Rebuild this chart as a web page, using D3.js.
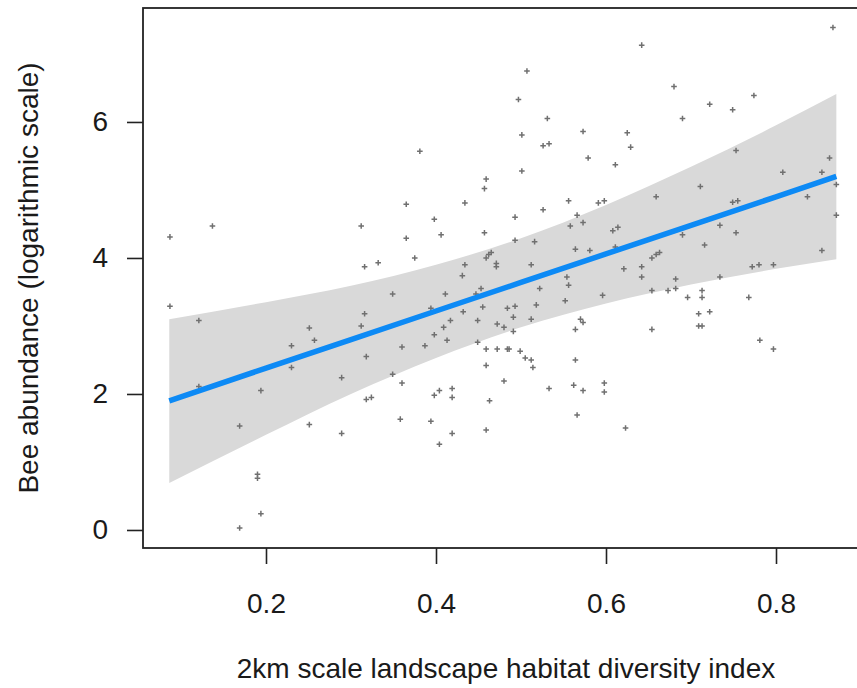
<!DOCTYPE html>
<html>
<head>
<meta charset="utf-8">
<script src="https://cdn.jsdelivr.net/npm/d3@7.9.0/dist/d3.min.js"></script>
<style>
  body { margin: 0; background: #fff; }
  svg { display: block; font-family: "Liberation Sans", Arial, sans-serif; }
</style>
</head>
<body>
<svg id="chart" width="857" height="688"></svg>
<script>
// habitat diversity index (x) and log bee abundance (y)
const diversity = [
  0.087, 0.137, 0.312, 0.316, 0.332, 0.507, 0.497, 0.531, 0.381, 0.501,
  0.526, 0.533, 0.573, 0.579, 0.501, 0.459, 0.457, 0.365, 0.434, 0.556,
  0.591, 0.598, 0.398, 0.526, 0.493, 0.566, 0.558, 0.573, 0.365, 0.406,
  0.457, 0.493, 0.516, 0.375, 0.459, 0.462, 0.465, 0.434, 0.471, 0.471,
  0.512, 0.564, 0.581, 0.431, 0.554, 0.867, 0.642, 0.680, 0.774, 0.722,
  0.749, 0.690, 0.625, 0.629, 0.753, 0.611, 0.863, 0.808, 0.854, 0.871,
  0.711, 0.659, 0.837, 0.749, 0.755, 0.871, 0.608, 0.614, 0.734, 0.690,
  0.753, 0.611, 0.716, 0.854, 0.654, 0.659, 0.663, 0.621, 0.642, 0.772,
  0.780, 0.797, 0.642, 0.734, 0.682, 0.087, 0.121, 0.121, 0.169, 0.190,
  0.190, 0.194, 0.169, 0.194, 0.230, 0.230, 0.251, 0.257, 0.251, 0.289,
  0.289, 0.312, 0.316, 0.318, 0.318, 0.324, 0.349, 0.411, 0.447, 0.453,
  0.394, 0.432, 0.455, 0.417, 0.449, 0.484, 0.493, 0.518, 0.522, 0.556,
  0.552, 0.596, 0.491, 0.512, 0.472, 0.480, 0.491, 0.409, 0.398, 0.413,
  0.449, 0.387, 0.360, 0.459, 0.472, 0.484, 0.486, 0.499, 0.505, 0.512,
  0.514, 0.459, 0.570, 0.573, 0.564, 0.564, 0.349, 0.360, 0.480, 0.533,
  0.562, 0.573, 0.598, 0.598, 0.398, 0.404, 0.419, 0.419, 0.463, 0.358,
  0.394, 0.459, 0.419, 0.566, 0.404, 0.654, 0.673, 0.682, 0.696, 0.713,
  0.713, 0.768, 0.709, 0.722, 0.709, 0.713, 0.654, 0.781, 0.797, 0.623
];
const abundance = [
  4.31, 4.47, 4.47, 3.87, 3.93, 6.75, 6.33, 6.05, 5.57, 5.81,
  5.65, 5.68, 5.86, 5.47, 5.28, 5.16, 5.02, 4.79, 4.81, 4.84,
  4.81, 4.84, 4.57, 4.71, 4.60, 4.63, 4.47, 4.52, 4.29, 4.34,
  4.37, 4.26, 4.24, 4.00, 4.00, 4.05, 4.08, 3.90, 3.92, 3.87,
  3.90, 4.13, 4.11, 3.74, 3.72, 7.39, 7.13, 6.52, 6.39, 6.26,
  6.18, 6.05, 5.84, 5.63, 5.58, 5.37, 5.47, 5.26, 5.26, 5.08,
  5.05, 4.90, 4.90, 4.82, 4.84, 4.63, 4.40, 4.45, 4.48, 4.34,
  4.37, 4.16, 4.19, 4.11, 4.00, 4.05, 4.08, 3.84, 3.87, 3.87,
  3.90, 3.90, 3.72, 3.72, 3.69, 3.29, 3.08, 2.11, 1.53, 0.82,
  0.76, 0.24, 0.03, 2.05, 2.71, 2.39, 2.97, 2.79, 1.55, 2.24,
  1.42, 3.00, 3.18, 2.55, 1.92, 1.95, 3.47, 3.47, 3.47, 3.55,
  3.26, 3.21, 3.28, 3.08, 3.08, 3.26, 3.29, 3.31, 3.55, 3.60,
  3.37, 3.45, 3.13, 3.10, 3.03, 2.98, 2.92, 2.98, 2.87, 2.79,
  2.76, 2.71, 2.69, 2.66, 2.66, 2.66, 2.66, 2.63, 2.53, 2.50,
  2.39, 2.42, 3.10, 3.05, 2.95, 2.50, 2.29, 2.16, 2.19, 2.08,
  2.13, 2.05, 2.16, 2.03, 1.98, 2.05, 2.08, 1.95, 1.90, 1.63,
  1.60, 1.47, 1.42, 1.69, 1.26, 3.52, 3.52, 3.55, 3.42, 3.52,
  3.42, 3.42, 3.18, 3.21, 3.00, 3.00, 2.95, 2.79, 2.66, 1.50
];

// fitted line and its confidence band
const fitX = [0.0862, 0.2, 0.3, 0.4, 0.5, 0.6, 0.7, 0.8, 0.871];
const fitY = [1.90, 2.38, 2.80, 3.22, 3.64, 4.06, 4.48, 4.90, 5.20];
const bandUpper = [3.10, 3.35, 3.59, 3.90, 4.29, 4.78, 5.34, 5.95, 6.41];
const bandLower = [0.69, 1.40, 2.00, 2.53, 2.98, 3.33, 3.61, 3.84, 3.98];

const xTicks = [0.2, 0.4, 0.6, 0.8];
const yTicks = [0, 2, 4, 6];

const xLabel = '2km scale landscape habitat diversity index';
const yLabel = 'Bee abundance (logarithmic scale)';

// plot box (right edge runs past the window, as in the source image)
const box = { left: 143, top: 8, right: 861, bottom: 548 };
const fontSize = '28px';

const svg = d3.select('#chart');

const x = d3.scaleLinear().domain([0.0553, 0.9]).range([box.left, box.right]);
const y = d3.scaleLinear().domain([-0.265, 7.676]).range([box.bottom, box.top]);

// confidence band
const band = fitX.map((d, i) => ({ x: d, lo: bandLower[i], hi: bandUpper[i] }));
svg.append('path')
  .datum(band)
  .attr('fill', '#d9d9d9')
  .attr('d', d3.area()
    .curve(d3.curveMonotoneX)
    .x((d) => x(d.x))
    .y0((d) => y(d.lo))
    .y1((d) => y(d.hi)));

// points drawn as small plus signs
const pts = diversity.map((d, i) => ({ x: d, y: abundance[i] }));
svg.append('g')
  .selectAll('path')
  .data(pts)
  .join('path')
  .attr('transform', (d) => `translate(${x(d.x)},${y(d.y)})`)
  .attr('d', 'M-2.8,0H2.8M0,-2.8V2.8')
  .attr('stroke', '#707070')
  .attr('stroke-width', 1.5)
  .attr('fill', 'none');

// fitted line
svg.append('path')
  .datum(fitX.map((d, i) => ({ x: d, y: fitY[i] })))
  .attr('fill', 'none')
  .attr('stroke', '#0d8af5')
  .attr('stroke-width', 5.5)
  .attr('d', d3.line().x((d) => x(d.x)).y((d) => y(d.y)));

// axes
const xAxis = svg.append('g')
  .attr('transform', `translate(0,${box.bottom})`)
  .call(d3.axisBottom(x).tickValues(xTicks).tickFormat(d3.format('.1f'))
    .tickSize(16).tickPadding(29));

const yAxis = svg.append('g')
  .attr('transform', `translate(${box.left},0)`)
  .call(d3.axisLeft(y).tickValues(yTicks).tickFormat(d3.format('d'))
    .tickSize(16).tickPadding(19));

[xAxis, yAxis].forEach((g) => {
  g.select('.domain').remove();
  g.selectAll('line').attr('stroke', '#222').attr('stroke-width', 1.6);
  g.selectAll('text')
    .attr('fill', '#1a1a1a')
    .style('font-size', fontSize);
});

// frame
svg.append('rect')
  .attr('x', box.left)
  .attr('y', box.top)
  .attr('width', box.right - box.left)
  .attr('height', box.bottom - box.top)
  .attr('fill', 'none')
  .attr('stroke', '#222')
  .attr('stroke-width', 1.8);

// titles
svg.append('text')
  .attr('x', (box.left + box.right) / 2 + 4)
  .attr('y', 678)
  .attr('text-anchor', 'middle')
  .attr('fill', '#1a1a1a')
  .style('font-size', fontSize)
  .text(xLabel);

svg.append('text')
  .attr('transform', `translate(38,${(box.top + box.bottom) / 2}) rotate(-90)`)
  .attr('text-anchor', 'middle')
  .attr('fill', '#1a1a1a')
  .style('font-size', fontSize)
  .text(yLabel);
</script>
</body>
</html>
